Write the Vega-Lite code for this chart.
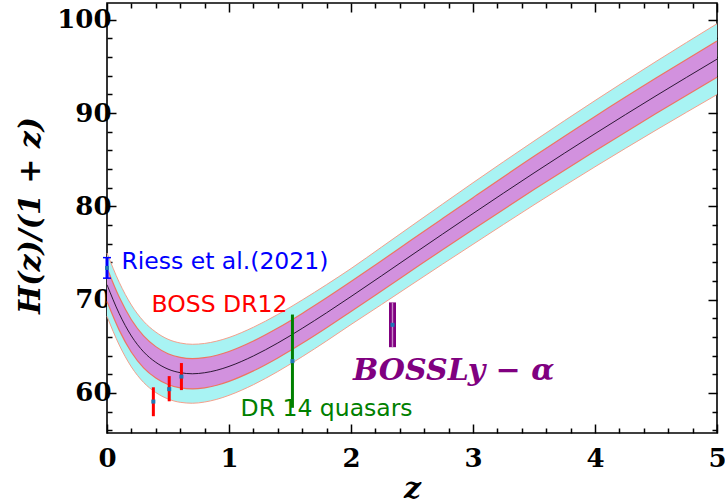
{
  "$schema": "https://vega.github.io/schema/vega-lite/v6.json",
  "width": 610,
  "height": 430,
  "autosize": {"type": "none"},
  "padding": {"left": 107, "top": 3, "right": 8, "bottom": 69},
  "background": "white",
  "config": {
    "view": {"stroke": "black", "strokeWidth": 1.6},
    "scale": {"continuousPadding": 0},
    "axis": {"grid": false, "domain": false, "labelFlush": false,
             "labelFont": "DejaVu Serif", "labelFontWeight": "bold", "labelFontSize": 26, "labelColor": "black",
             "titleFont": "DejaVu Serif", "titleFontWeight": "bold", "titleFontStyle": "italic", "titleFontSize": 30, "titleColor": "black"}
  },
  "datasets": {
    "band": [
      {"z": 0, "c": 71.6, "l1": 69.8, "h1": 73.4, "l2": 68.2, "h2": 75.0},
      {"z": 0.1, "c": 68.5, "l1": 66.73, "h1": 70.27, "l2": 65.14, "h2": 71.86},
      {"z": 0.2, "c": 66.1, "l1": 64.36, "h1": 67.84, "l2": 62.78, "h2": 69.42},
      {"z": 0.3, "c": 64.4, "l1": 62.69, "h1": 66.11, "l2": 61.12, "h2": 67.68},
      {"z": 0.4, "c": 63.28, "l1": 61.6, "h1": 64.96, "l2": 60.04, "h2": 66.52},
      {"z": 0.5, "c": 62.55, "l1": 60.9, "h1": 64.2, "l2": 59.35, "h2": 65.75},
      {"z": 0.6, "c": 62.17, "l1": 60.53, "h1": 63.81, "l2": 58.99, "h2": 65.35},
      {"z": 0.7, "c": 62.05, "l1": 60.42, "h1": 63.68, "l2": 58.89, "h2": 65.21},
      {"z": 0.8, "c": 62.16, "l1": 60.54, "h1": 63.78, "l2": 59.02, "h2": 65.3},
      {"z": 0.9, "c": 62.43, "l1": 60.82, "h1": 64.04, "l2": 59.31, "h2": 65.55},
      {"z": 1.0, "c": 62.84, "l1": 61.24, "h1": 64.44, "l2": 59.74, "h2": 65.94},
      {"z": 1.2, "c": 63.96, "l1": 62.36, "h1": 65.56, "l2": 60.88, "h2": 67.04},
      {"z": 1.4, "c": 65.35, "l1": 63.75, "h1": 66.95, "l2": 62.29, "h2": 68.41},
      {"z": 1.6, "c": 66.92, "l1": 65.32, "h1": 68.52, "l2": 63.88, "h2": 69.96},
      {"z": 1.8, "c": 68.59, "l1": 66.99, "h1": 70.19, "l2": 65.57, "h2": 71.61},
      {"z": 2.0, "c": 70.33, "l1": 68.73, "h1": 71.93, "l2": 67.33, "h2": 73.33},
      {"z": 2.25, "c": 72.55, "l1": 70.93, "h1": 74.17, "l2": 69.47, "h2": 75.63},
      {"z": 2.5, "c": 74.79, "l1": 73.14, "h1": 76.44, "l2": 71.64, "h2": 77.94},
      {"z": 2.75, "c": 77.02, "l1": 75.35, "h1": 78.69, "l2": 73.8, "h2": 80.24},
      {"z": 3.0, "c": 79.23, "l1": 77.53, "h1": 80.93, "l2": 75.93, "h2": 82.53},
      {"z": 3.5, "c": 83.58, "l1": 81.8, "h1": 85.36, "l2": 80.16, "h2": 87.0},
      {"z": 4.0, "c": 87.79, "l1": 85.94, "h1": 89.64, "l2": 84.24, "h2": 91.34},
      {"z": 4.5, "c": 91.85, "l1": 89.95, "h1": 93.75, "l2": 88.17, "h2": 95.53},
      {"z": 5.0, "c": 95.78, "l1": 93.83, "h1": 97.73, "l2": 91.98, "h2": 99.58}
    ],
    "obs": [
      {"set": "Riess", "z": 0, "h": 73.4, "lo": 72.3, "hi": 74.5},
      {"set": "DR12", "z": 0.38, "h": 59.07, "lo": 57.5, "hi": 60.6},
      {"set": "DR12", "z": 0.51, "h": 60.4, "lo": 59.1, "hi": 61.8},
      {"set": "DR12", "z": 0.61, "h": 61.75, "lo": 60.3, "hi": 63.2},
      {"set": "DR14", "z": 1.52, "h": 63.4, "lo": 58.4, "hi": 68.4},
      {"set": "Lya", "z": 2.34, "h": 67.3, "lo": 64.9, "hi": 69.7}
    ],
    "labels": [
      {"set": "Riess", "label": "Riess et al.(2021)", "z": 0.118, "y": 74.0},
      {"set": "DR12", "label": "BOSS DR12", "z": 0.365, "y": 69.4},
      {"set": "DR14", "label": "DR 14 quasars", "z": 1.095, "y": 58.3},
      {"set": "Lya", "label": "BOSSLy − α", "z": 2.016, "y": 62.36}
    ]
  },
  "resolve": {"axis": {"x": "independent", "y": "independent"}},
  "layer": [
    {
      "data": {"name": "band"},
      "mark": {"type": "area", "color": "#a8f3f3", "opacity": 1, "interpolate": "monotone"},
      "encoding": {
        "x": {"field": "z", "type": "quantitative", "scale": {"domain": [0, 5], "nice": false, "zero": false, "padding": 0}, "axis": null},
        "y": {"field": "l2", "type": "quantitative", "scale": {"domain": [55.7, 101.8], "nice": false, "zero": false, "padding": 0}, "axis": null},
        "y2": {"field": "h2"}
      }
    },
    {
      "data": {"name": "band"},
      "mark": {"type": "area", "color": "#d291de", "opacity": 1, "interpolate": "monotone"},
      "encoding": {
        "x": {"field": "z", "type": "quantitative", "scale": {"domain": [0, 5], "nice": false, "zero": false, "padding": 0}, "axis": null},
        "y": {"field": "l1", "type": "quantitative", "scale": {"domain": [55.7, 101.8], "nice": false, "zero": false, "padding": 0}, "axis": null},
        "y2": {"field": "h1"}
      }
    },
    {
      "data": {"name": "band"},
      "mark": {"type": "line", "color": "#f4a08c", "strokeWidth": 1, "interpolate": "monotone"},
      "encoding": {
        "x": {"field": "z", "type": "quantitative", "scale": {"domain": [0, 5], "nice": false, "zero": false, "padding": 0},
              "axis": {"orient": "bottom", "values": [0, 0.2, 0.4, 0.6, 0.8, 1, 1.2, 1.4, 1.6, 1.8, 2, 2.2, 2.4, 2.6, 2.8, 3, 3.2, 3.4, 3.6, 3.8, 4, 4.2, 4.4, 4.6, 4.8, 5],
                       "labelExpr": "abs(datum.value - round(datum.value)) < 0.001 ? format(datum.value, 'd') : ''",
                       "ticks": true, "tickColor": "black", "tickWidth": 1.5,
                       "tickSize": {"condition": {"test": "abs(datum.value - round(datum.value)) < 0.001", "value": -9}, "value": -5},
                       "labelPadding": 21, "title": "z", "titleY": 55, "titleBaseline": "middle"}},
        "y": {"field": "l2", "type": "quantitative", "scale": {"domain": [55.7, 101.8], "nice": false, "zero": false, "padding": 0},
              "axis": {"orient": "left", "values": [56, 58, 60, 62, 64, 66, 68, 70, 72, 74, 76, 78, 80, 82, 84, 86, 88, 90, 92, 94, 96, 98, 100],
                       "labelExpr": "datum.value % 10 === 0 ? format(datum.value, 'd') : ''",
                       "ticks": true, "tickColor": "black", "tickWidth": 1.5,
                       "tickSize": {"condition": {"test": "datum.value % 10 === 0", "value": -9}, "value": -5},
                       "labelPadding": 5, "title": "H(z)/(1 + z)", "titleX": -77, "titleY": 212, "titleAngle": -90, "titleBaseline": "middle", "titleAlign": "center"}}
      }
    },
    {
      "data": {"name": "band"},
      "mark": {"type": "line", "color": "#f4a08c", "strokeWidth": 1, "interpolate": "monotone"},
      "encoding": {
        "x": {"field": "z", "type": "quantitative", "scale": {"domain": [0, 5], "nice": false, "zero": false, "padding": 0},
              "axis": {"orient": "top", "values": [0, 0.2, 0.4, 0.6, 0.8, 1, 1.2, 1.4, 1.6, 1.8, 2, 2.2, 2.4, 2.6, 2.8, 3, 3.2, 3.4, 3.6, 3.8, 4, 4.2, 4.4, 4.6, 4.8, 5],
                       "labels": false, "ticks": true, "tickColor": "black", "tickWidth": 1.5,
                       "tickSize": {"condition": {"test": "abs(datum.value - round(datum.value)) < 0.001", "value": -9}, "value": -5},
                       "title": null}},
        "y": {"field": "h2", "type": "quantitative", "scale": {"domain": [55.7, 101.8], "nice": false, "zero": false, "padding": 0},
              "axis": {"orient": "right", "values": [56, 58, 60, 62, 64, 66, 68, 70, 72, 74, 76, 78, 80, 82, 84, 86, 88, 90, 92, 94, 96, 98, 100],
                       "labels": false, "ticks": true, "tickColor": "black", "tickWidth": 1.5,
                       "tickSize": {"condition": {"test": "datum.value % 10 === 0", "value": -9}, "value": -5},
                       "title": null}}
      }
    },
    {
      "data": {"name": "band"},
      "mark": {"type": "line", "color": "#ee7462", "strokeWidth": 1.2, "interpolate": "monotone"},
      "encoding": {
        "x": {"field": "z", "type": "quantitative", "scale": {"domain": [0, 5], "nice": false, "zero": false, "padding": 0}, "axis": null},
        "y": {"field": "l1", "type": "quantitative", "scale": {"domain": [55.7, 101.8], "nice": false, "zero": false, "padding": 0}, "axis": null}
      }
    },
    {
      "data": {"name": "band"},
      "mark": {"type": "line", "color": "#ee7462", "strokeWidth": 1.2, "interpolate": "monotone"},
      "encoding": {
        "x": {"field": "z", "type": "quantitative", "scale": {"domain": [0, 5], "nice": false, "zero": false, "padding": 0}, "axis": null},
        "y": {"field": "h1", "type": "quantitative", "scale": {"domain": [55.7, 101.8], "nice": false, "zero": false, "padding": 0}, "axis": null}
      }
    },
    {
      "data": {"name": "band"},
      "mark": {"type": "line", "color": "#1a0a22", "strokeWidth": 0.9, "interpolate": "monotone"},
      "encoding": {
        "x": {"field": "z", "type": "quantitative", "scale": {"domain": [0, 5], "nice": false, "zero": false, "padding": 0}, "axis": null},
        "y": {"field": "c", "type": "quantitative", "scale": {"domain": [55.7, 101.8], "nice": false, "zero": false, "padding": 0}, "axis": null}
      }
    },
    {
      "data": {"name": "obs"},
      "transform": [{"filter": "datum.set !== 'Lya'"}],
      "mark": {"type": "rule", "strokeWidth": 3},
      "encoding": {
        "x": {"field": "z", "type": "quantitative", "scale": {"domain": [0, 5], "nice": false, "zero": false, "padding": 0}, "axis": null},
        "y": {"field": "lo", "type": "quantitative", "scale": {"domain": [55.7, 101.8], "nice": false, "zero": false, "padding": 0}, "axis": null},
        "y2": {"field": "hi"},
        "color": {"field": "set", "type": "nominal", "scale": {"domain": ["Riess", "DR12", "DR14", "Lya"], "range": ["#0000ff", "#ff0000", "#008000", "#800080"]}, "legend": null}
      }
    },
    {
      "data": {"name": "obs"},
      "transform": [{"filter": "datum.set === 'Riess'"}],
      "mark": {"type": "point", "shape": "stroke", "size": 64, "strokeWidth": 1.5, "filled": false, "color": "#0000ff", "opacity": 1},
      "encoding": {
        "x": {"field": "z", "type": "quantitative", "scale": {"domain": [0, 5], "nice": false, "zero": false, "padding": 0}, "axis": null},
        "y": {"field": "lo", "type": "quantitative", "scale": {"domain": [55.7, 101.8], "nice": false, "zero": false, "padding": 0}, "axis": null}
      }
    },
    {
      "data": {"name": "obs"},
      "transform": [{"filter": "datum.set === 'Riess'"}],
      "mark": {"type": "point", "shape": "stroke", "size": 64, "strokeWidth": 1.5, "filled": false, "color": "#0000ff", "opacity": 1},
      "encoding": {
        "x": {"field": "z", "type": "quantitative", "scale": {"domain": [0, 5], "nice": false, "zero": false, "padding": 0}, "axis": null},
        "y": {"field": "hi", "type": "quantitative", "scale": {"domain": [55.7, 101.8], "nice": false, "zero": false, "padding": 0}, "axis": null}
      }
    },
    {
      "data": {"name": "obs"},
      "transform": [{"filter": "datum.set === 'Lya'"}],
      "mark": {"type": "rule", "strokeWidth": 7, "color": "#800080"},
      "encoding": {
        "x": {"field": "z", "type": "quantitative", "scale": {"domain": [0, 5], "nice": false, "zero": false, "padding": 0}, "axis": null},
        "y": {"field": "lo", "type": "quantitative", "scale": {"domain": [55.7, 101.8], "nice": false, "zero": false, "padding": 0}, "axis": null},
        "y2": {"field": "hi"}
      }
    },
    {
      "data": {"name": "obs"},
      "transform": [{"filter": "datum.set === 'Lya'"}],
      "mark": {"type": "rule", "strokeWidth": 1.4, "color": "#c78ac7"},
      "encoding": {
        "x": {"field": "z", "type": "quantitative", "scale": {"domain": [0, 5], "nice": false, "zero": false, "padding": 0}, "axis": null},
        "y": {"field": "lo", "type": "quantitative", "scale": {"domain": [55.7, 101.8], "nice": false, "zero": false, "padding": 0}, "axis": null},
        "y2": {"field": "hi"}
      }
    },
    {
      "data": {"name": "obs"},
      "mark": {"type": "square", "size": 16, "color": "#1f77b4", "opacity": 1, "filled": true},
      "encoding": {
        "x": {"field": "z", "type": "quantitative", "scale": {"domain": [0, 5], "nice": false, "zero": false, "padding": 0}, "axis": null},
        "y": {"field": "h", "type": "quantitative", "scale": {"domain": [55.7, 101.8], "nice": false, "zero": false, "padding": 0}, "axis": null}
      }
    },
    {
      "data": {"name": "labels"},
      "transform": [{"filter": "datum.set !== 'Lya'"}],
      "mark": {"type": "text", "align": "left", "baseline": "middle", "font": "DejaVu Sans", "fontSize": 23.5},
      "encoding": {
        "x": {"field": "z", "type": "quantitative", "scale": {"domain": [0, 5], "nice": false, "zero": false, "padding": 0}, "axis": null},
        "y": {"field": "y", "type": "quantitative", "scale": {"domain": [55.7, 101.8], "nice": false, "zero": false, "padding": 0}, "axis": null},
        "text": {"field": "label"},
        "color": {"field": "set", "type": "nominal", "scale": {"domain": ["Riess", "DR12", "DR14", "Lya"], "range": ["#0000ff", "#ff0000", "#008000", "#800080"]}, "legend": null}
      }
    },
    {
      "data": {"name": "labels"},
      "transform": [{"filter": "datum.set === 'Lya'"}],
      "mark": {"type": "text", "align": "left", "baseline": "middle", "font": "DejaVu Serif", "fontSize": 30, "fontWeight": "bold", "fontStyle": "italic", "color": "#800080"},
      "encoding": {
        "x": {"field": "z", "type": "quantitative", "scale": {"domain": [0, 5], "nice": false, "zero": false, "padding": 0}, "axis": null},
        "y": {"field": "y", "type": "quantitative", "scale": {"domain": [55.7, 101.8], "nice": false, "zero": false, "padding": 0}, "axis": null},
        "text": {"field": "label"}
      }
    }
  ]
}
